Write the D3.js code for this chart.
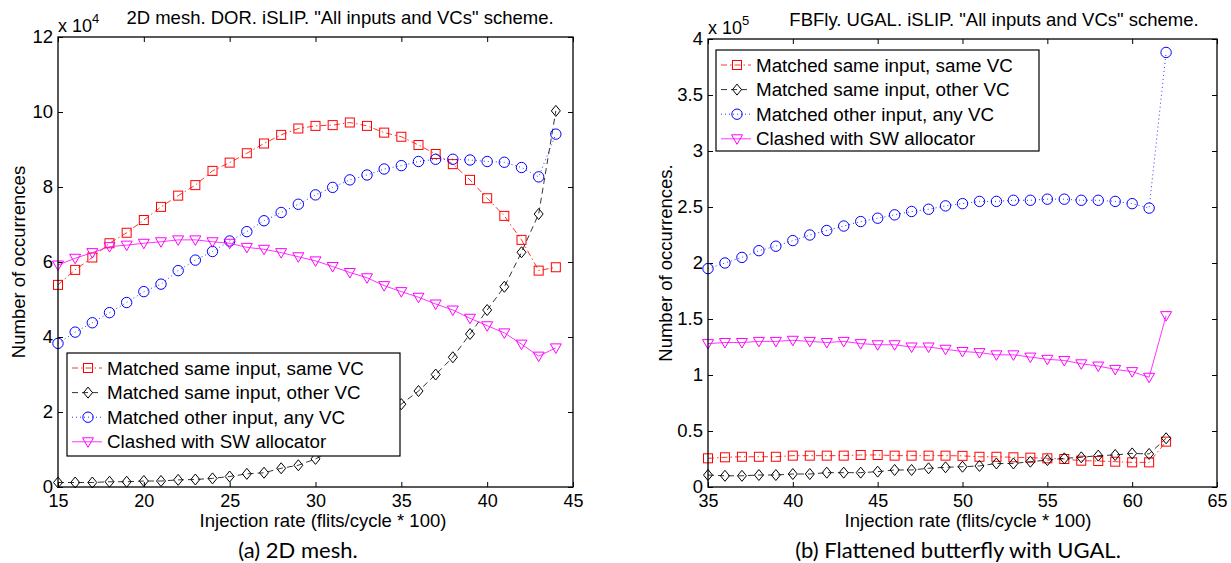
<!DOCTYPE html>
<html>
<head>
<meta charset="utf-8">
<script src="https://cdn.jsdelivr.net/npm/d3@7"></script>
<style>
  body { margin: 0; background: #fff; }
  svg text { font-family: "Liberation Sans", Arial, sans-serif; fill: #000; }
  .caption { font-family: Lato, "DejaVu Sans", sans-serif; }
</style>
</head>
<body>
<div id="chart"></div>
<script>
// legend labels, shared by both panels
var SERIES_NAMES = [
    "Matched same input, same VC",
    "Matched same input, other VC",
    "Matched other input, any VC",
    "Clashed with SW allocator"
];

// (a) 2D mesh, values in units of 10^4
var MESH_RATES = d3.range(15, 45);
var MESH_SAME_VC = [5.39, 5.79, 6.12, 6.5, 6.78, 7.12, 7.47, 7.77, 8.05, 8.43, 8.65, 8.9, 9.16, 9.39, 9.56,
    9.63, 9.65, 9.72, 9.63, 9.45, 9.34, 9.12, 8.88, 8.61, 8.19, 7.7, 7.23, 6.59, 5.77, 5.86];
var MESH_OTHER_VC = [0.12, 0.12, 0.12, 0.14, 0.14, 0.16, 0.16, 0.19, 0.2, 0.23, 0.28, 0.35, 0.38, 0.5, 0.58,
    0.75, 0.98, 1.25, 1.55, 1.88, 2.21, 2.56, 3.0, 3.46, 4.08, 4.72, 5.34, 6.26, 7.28, 10.03];
var MESH_OTHER_INPUT = [3.83, 4.13, 4.38, 4.65, 4.92, 5.21, 5.41, 5.77, 6.05, 6.28, 6.56, 6.81, 7.1, 7.32, 7.54,
    7.79, 7.99, 8.19, 8.32, 8.48, 8.57, 8.68, 8.74, 8.74, 8.72, 8.68, 8.66, 8.52, 8.27, 9.41];
var MESH_CLASHED = [5.92, 6.1, 6.25, 6.41, 6.45, 6.5, 6.54, 6.59, 6.59, 6.54, 6.5, 6.39, 6.34, 6.25, 6.14,
    6.03, 5.88, 5.72, 5.58, 5.37, 5.21, 5.06, 4.88, 4.72, 4.5, 4.3, 4.11, 3.81, 3.49, 3.71];
var MESH_X_TICKS = [15, 20, 25, 30, 35, 40, 45];
var MESH_Y_TICKS = [0, 2, 4, 6, 8, 10, 12];

// (b) flattened butterfly, values in units of 10^5
var FBFLY_RATES = d3.range(35, 63);
var FBFLY_SAME_VC = [0.256, 0.265, 0.27, 0.27, 0.27, 0.28, 0.28, 0.28, 0.28, 0.286, 0.286, 0.28, 0.28, 0.28,
    0.28, 0.278, 0.27, 0.27, 0.265, 0.262, 0.256, 0.25, 0.235, 0.232, 0.226, 0.22, 0.22, 0.405];
var FBFLY_OTHER_VC = [0.107, 0.1, 0.1, 0.107, 0.107, 0.116, 0.116, 0.128, 0.128, 0.128, 0.137, 0.152, 0.152, 0.167,
    0.176, 0.181, 0.188, 0.21, 0.21, 0.226, 0.24, 0.256, 0.265, 0.28, 0.286, 0.3, 0.295, 0.435];
var FBFLY_OTHER_INPUT = [1.95, 2.0, 2.05, 2.11, 2.15, 2.2, 2.25, 2.29, 2.33, 2.37, 2.4, 2.43, 2.46, 2.48,
    2.51, 2.53, 2.55, 2.55, 2.56, 2.56, 2.57, 2.57, 2.56, 2.56, 2.55, 2.53, 2.49, 3.88];
var FBFLY_CLASHED = [1.28, 1.29, 1.29, 1.3, 1.3, 1.31, 1.3, 1.29, 1.3, 1.28, 1.27, 1.27, 1.25, 1.25,
    1.23, 1.21, 1.2, 1.18, 1.18, 1.16, 1.14, 1.13, 1.1, 1.08, 1.05, 1.03, 0.98, 1.53];
var FBFLY_X_TICKS = [35, 40, 45, 50, 55, 60, 65];
var FBFLY_Y_TICKS = [0, 0.5, 1, 1.5, 2, 2.5, 3, 3.5, 4];

// line + marker style per series
var STYLES = [
    { color: "#ff0000", dash: "6,3,1.5,3", marker: "square" },
    { color: "#000000", dash: "6,4", marker: "diamond" },
    { color: "#0000ff", dash: "1,3", marker: "circle" },
    { color: "#ff00ff", dash: null, marker: "triangle" }
];

var svg = d3.select("#chart").append("svg")
    .attr("width", 1231)
    .attr("height", 563);
svg.append("rect").attr("width", 1231).attr("height", 563).attr("fill", "#fff");

function drawMarker(g, type, cx, cy, color) {
    var m;
    if (type == "square") {
        m = g.append("rect").attr("x", cx - 4.5).attr("y", cy - 4.5).attr("width", 9).attr("height", 9);
    } else if (type == "diamond") {
        m = g.append("path").attr("d", "M" + cx + "," + (cy - 5.5) + "L" + (cx + 4.5) + "," + cy +
            "L" + cx + "," + (cy + 5.5) + "L" + (cx - 4.5) + "," + cy + "Z");
    } else if (type == "circle") {
        m = g.append("circle").attr("cx", cx).attr("cy", cy).attr("r", 5.2);
    } else {
        m = g.append("path").attr("d", "M" + (cx - 5.5) + "," + (cy - 4) + "L" + (cx + 5.5) + "," + (cy - 4) +
            "L" + cx + "," + (cy + 5.5) + "Z");
    }
    m.attr("fill", "none").attr("stroke", color).attr("stroke-width", 1);
}

function drawPanel(p) {
    var x = d3.scaleLinear().domain([p.xTicks[0], p.xTicks[p.xTicks.length - 1]]).range([p.left, p.right]);
    var y = d3.scaleLinear().domain([0, p.yTicks[p.yTicks.length - 1]]).range([p.bottom, p.top]);
    var g = svg.append("g");

    // bottom axis with labels, ticks pointing in
    g.append("g")
        .attr("transform", "translate(0," + p.bottom + ")")
        .call(d3.axisBottom(x).tickValues(p.xTicks).tickSizeInner(-5).tickSizeOuter(0).tickPadding(7))
        .call(function (a) {
            a.select(".domain").remove();
            a.selectAll("text").attr("font-size", "18px").attr("font-family", null);
            a.selectAll("line").attr("stroke", "#000");
        });
    // top axis ticks only
    g.append("g")
        .attr("transform", "translate(0," + p.top + ")")
        .call(d3.axisTop(x).tickValues(p.xTicks).tickSizeInner(-5).tickSizeOuter(0).tickFormat(""))
        .call(function (a) { a.select(".domain").remove(); });
    // left axis
    g.append("g")
        .attr("transform", "translate(" + p.left + ",0)")
        .call(d3.axisLeft(y).tickValues(p.yTicks).tickSizeInner(-5).tickSizeOuter(0).tickPadding(5)
            .tickFormat(d3.format("~g")))
        .call(function (a) {
            a.select(".domain").remove();
            a.selectAll("text").attr("font-size", "18.5px").attr("font-family", null);
        });
    // right axis ticks only
    g.append("g")
        .attr("transform", "translate(" + p.right + ",0)")
        .call(d3.axisRight(y).tickValues(p.yTicks).tickSizeInner(-5).tickSizeOuter(0).tickFormat(""))
        .call(function (a) { a.select(".domain").remove(); });

    // series lines and markers
    p.series.forEach(function (vals, i) {
        var st = STYLES[i];
        var pts = vals.map(function (v, j) { return [x(p.rates[j]), y(v)]; });
        g.append("path")
            .attr("d", d3.line()(pts))
            .attr("fill", "none")
            .attr("stroke", st.color)
            .attr("stroke-width", 0.8)
            .attr("stroke-dasharray", st.dash);
        pts.forEach(function (pt) { drawMarker(g, st.marker, pt[0], pt[1], st.color); });
    });

    // plot box
    g.append("rect")
        .attr("x", p.left).attr("y", p.top)
        .attr("width", p.right - p.left).attr("height", p.bottom - p.top)
        .attr("fill", "none").attr("stroke", "#000").attr("stroke-width", 1.3);

    // exponent label
    var ex = g.append("text").attr("x", p.left).attr("y", p.top - 5).attr("font-size", "18px");
    ex.append("tspan").text("x 10");
    ex.append("tspan").attr("dy", -9).attr("font-size", "13px").text(p.exponent);

    // title
    g.append("text").attr("x", p.titleX).attr("y", p.titleY).attr("font-size", "18.5px")
        .attr("text-anchor", "middle").text(p.title);
    // axis labels
    g.append("text").attr("x", p.xLabelX).attr("y", 527).attr("font-size", "18.5px")
        .attr("text-anchor", "middle").text("Injection rate (flits/cycle * 100)");
    g.append("text")
        .attr("transform", "translate(" + p.yLabelX + "," + ((p.top + p.bottom) / 2) + ") rotate(-90)")
        .attr("font-size", "18.5px").attr("text-anchor", "middle").text(p.yLabel);
    // caption
    g.append("text").attr("class", "caption").attr("x", p.captionX).attr("y", 558).attr("font-size", "22px")
        .attr("text-anchor", "middle").text(p.caption);

    // legend
    var lg = g.append("g");
    lg.append("rect")
        .attr("x", p.legend.x).attr("y", p.legend.y)
        .attr("width", p.legend.w).attr("height", p.legend.h)
        .attr("fill", "#fff").attr("stroke", "#000").attr("stroke-width", 1.2);
    SERIES_NAMES.forEach(function (name, i) {
        var st = STYLES[i];
        var ry = p.legend.y + 15 + i * 24.6;
        var lx = p.legend.x + 5;
        lg.append("line")
            .attr("x1", lx).attr("x2", lx + 30).attr("y1", ry).attr("y2", ry)
            .attr("stroke", st.color).attr("stroke-width", 0.8).attr("stroke-dasharray", st.dash);
        drawMarker(lg, st.marker, lx + 16, ry, st.color);
        lg.append("text").attr("x", p.legend.x + 40).attr("y", ry + 6.5)
            .attr("font-size", "18.8px").text(name);
    });
}

drawPanel({
    left: 58, right: 573, top: 37, bottom: 487,
    rates: MESH_RATES,
    series: [MESH_SAME_VC, MESH_OTHER_VC, MESH_OTHER_INPUT, MESH_CLASHED],
    xTicks: MESH_X_TICKS, yTicks: MESH_Y_TICKS,
    exponent: "4",
    title: "2D mesh. DOR. iSLIP. \"All inputs and VCs\" scheme.",
    titleX: 340, titleY: 24,
    xLabelX: 323,
    yLabel: "Number of occurrences", yLabelX: 25,
    caption: "(a) 2D mesh.", captionX: 298,
    legend: { x: 67, y: 353, w: 333, h: 103 }
});

drawPanel({
    left: 708, right: 1217, top: 39, bottom: 487,
    rates: FBFLY_RATES,
    series: [FBFLY_SAME_VC, FBFLY_OTHER_VC, FBFLY_OTHER_INPUT, FBFLY_CLASHED],
    xTicks: FBFLY_X_TICKS, yTicks: FBFLY_Y_TICKS,
    exponent: "5",
    title: "FBFly. UGAL. iSLIP. \"All inputs and VCs\" scheme.",
    titleX: 994, titleY: 26,
    xLabelX: 968,
    yLabel: "Number of occurrences.", yLabelX: 672,
    caption: "(b) Flattened butterfly with UGAL.", captionX: 958,
    legend: { x: 716, y: 50, w: 323, h: 101 }
});
</script>
</body>
</html>
